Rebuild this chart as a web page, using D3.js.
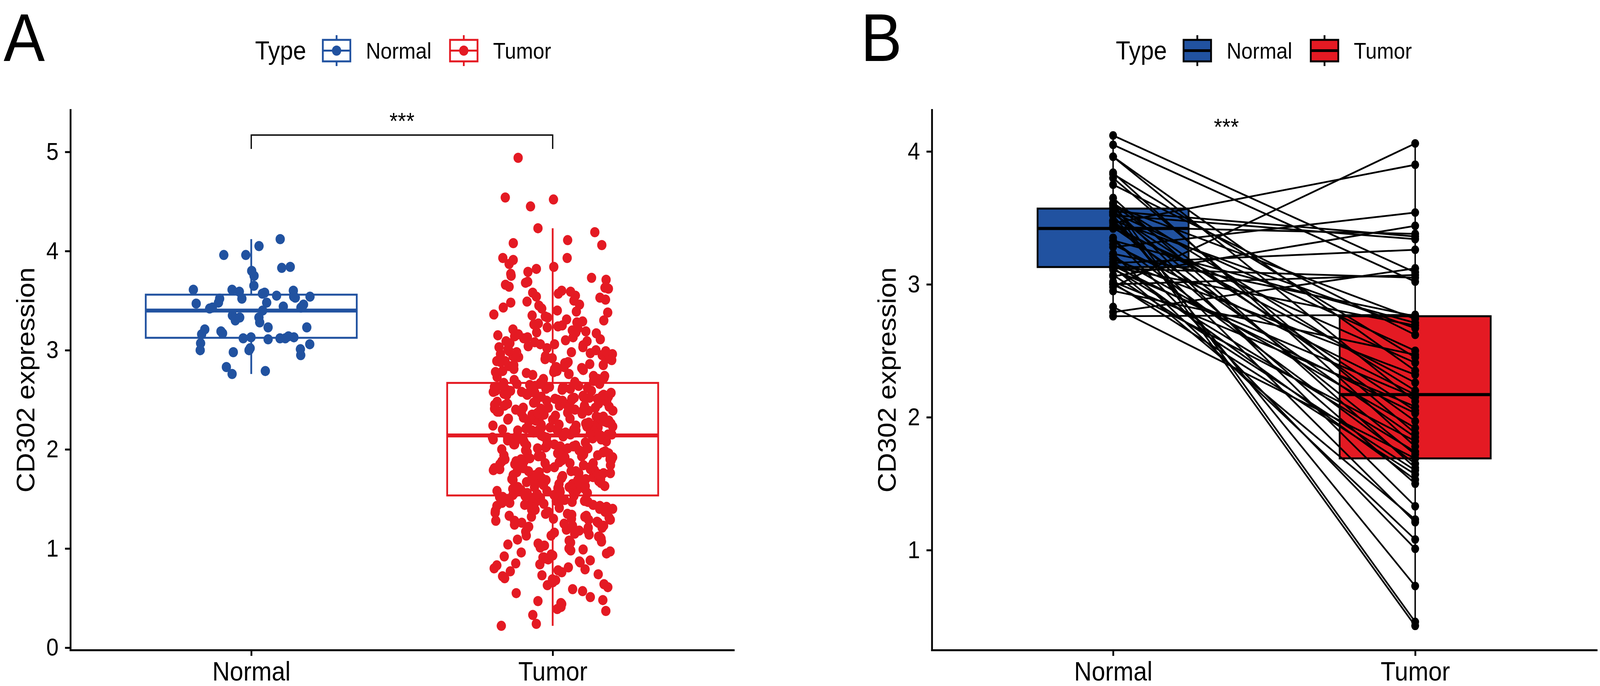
<!DOCTYPE html>
<html>
<head>
<meta charset="utf-8">
<script src="https://cdn.jsdelivr.net/npm/d3@7"></script>
<style>
  html, body { margin: 0; padding: 0; background: #fff; overflow: hidden; }
  svg { display: block; font-family: "Liberation Sans", Arial, Helvetica, sans-serif; }
</style>
</head>
<body>
<div id="chart"></div>
<script>
// ---- data ----
const groups = ["Normal", "Tumor"];
const groupColors = ["#2152A0", "#E41A23"];
const yTitle = "CD302 expression";
const legendTitle = "Type";
const sigLabel = "***";

// panel A: all samples
const normalA = [
  4.12, 4.05, 3.96, 3.96, 3.84, 3.83, 3.80, 3.75, 3.65, 3.61, 3.57, 3.58, 3.59, 3.60, 3.61,
  3.52, 3.52, 3.54, 3.55, 3.53, 3.54, 3.47, 3.48, 3.46, 3.48, 3.44, 3.42, 3.43, 3.43, 3.35,
  3.33, 3.30, 3.33, 3.28, 3.21, 3.23, 3.23, 3.19, 3.17, 3.12, 3.13, 3.11, 3.07, 3.13, 3.14,
  3.12, 3.16, 3.12, 3.06, 3.01, 3.00, 2.98, 3.02, 3.00, 2.95, 2.83, 2.76, 2.79, 3.40
];
const tumorA = [
  0.22, 0.24, 0.33, 0.37, 0.39, 0.41, 0.42, 0.44, 0.45, 0.47, 0.48, 0.51, 0.55, 0.57, 0.59,
  0.61, 0.63, 0.64, 0.66, 0.68, 0.69, 0.70, 0.72, 0.73, 0.74, 0.76, 0.77, 0.78, 0.79,
  0.80, 0.81, 0.83, 0.84, 0.85, 0.86, 0.87, 0.88, 0.89,
  0.90, 0.91, 0.91, 0.92, 0.93, 0.94, 0.95, 0.96, 0.97, 0.98, 0.99,
  1.00, 1.01, 1.03, 1.04, 1.05, 1.06, 1.07, 1.08, 1.09,
  1.10, 1.11, 1.12, 1.13, 1.13, 1.14, 1.15, 1.16, 1.17, 1.18, 1.18, 1.19,
  1.20, 1.21, 1.21, 1.22, 1.23, 1.23, 1.24, 1.25, 1.26, 1.26, 1.27, 1.28, 1.28, 1.29, 1.29,
  1.30, 1.30, 1.31, 1.32, 1.32, 1.33, 1.33, 1.34, 1.35, 1.35, 1.36, 1.37, 1.37, 1.38, 1.38, 1.39, 1.39,
  1.40, 1.40, 1.41, 1.41, 1.42, 1.42, 1.43, 1.43, 1.44, 1.44, 1.45, 1.45, 1.45, 1.46, 1.46, 1.47,
  1.47, 1.47, 1.48, 1.48, 1.49, 1.49, 1.49, 1.49,
  1.50, 1.50, 1.51, 1.51, 1.52, 1.52, 1.53, 1.53,
  1.54, 1.54, 1.55, 1.56, 1.56, 1.56, 1.57, 1.58, 1.58, 1.58, 1.59, 1.59, 1.59,
  1.60, 1.60, 1.61, 1.62, 1.62, 1.62, 1.63, 1.63, 1.64, 1.65, 1.65, 1.65, 1.66, 1.66, 1.67, 1.67,
  1.67, 1.68, 1.68, 1.69, 1.69, 1.69,
  1.70, 1.70, 1.70, 1.71, 1.71, 1.72, 1.73, 1.73, 1.73, 1.74, 1.74, 1.75, 1.76, 1.76, 1.76, 1.77,
  1.77, 1.78, 1.78, 1.78, 1.79, 1.79,
  1.80, 1.80, 1.81, 1.81, 1.81, 1.82, 1.82, 1.83, 1.84, 1.84, 1.84, 1.85, 1.85, 1.86, 1.86, 1.86,
  1.87, 1.88, 1.88, 1.88, 1.89, 1.89,
  1.90, 1.90, 1.90, 1.91, 1.92, 1.92, 1.93, 1.93, 1.93, 1.94, 1.94, 1.95, 1.95, 1.96, 1.96, 1.96,
  1.97, 1.97, 1.98, 1.98, 1.99, 1.99,
  2.00, 2.00, 2.01, 2.01, 2.01, 2.02, 2.03, 2.03, 2.03, 2.04, 2.04, 2.05, 2.05, 2.05, 2.06, 2.07,
  2.07, 2.07, 2.08, 2.08, 2.09, 2.09,
  2.10, 2.10, 2.11, 2.11, 2.12, 2.12, 2.12, 2.13, 2.13, 2.14, 2.14,
  2.14, 2.15, 2.15, 2.15, 2.16, 2.16, 2.17, 2.17, 2.17, 2.18, 2.18, 2.19, 2.19, 2.19, 2.19,
  2.20, 2.20, 2.20, 2.21, 2.21, 2.22, 2.22, 2.22, 2.23, 2.23, 2.24, 2.24, 2.24, 2.25, 2.25, 2.26,
  2.26, 2.26, 2.27, 2.27, 2.28, 2.28, 2.28, 2.29, 2.29,
  2.30, 2.30, 2.31, 2.31, 2.31, 2.32, 2.32, 2.33, 2.33, 2.33, 2.34, 2.34, 2.35, 2.35, 2.35, 2.36,
  2.36, 2.37, 2.37, 2.37, 2.38, 2.38, 2.39, 2.39, 2.39,
  2.40, 2.40, 2.40, 2.41, 2.41, 2.42, 2.42, 2.42, 2.43, 2.43, 2.44, 2.44, 2.44, 2.45, 2.45, 2.46,
  2.46, 2.46, 2.47, 2.47, 2.48, 2.48, 2.48, 2.49, 2.49,
  2.50, 2.50, 2.51, 2.51, 2.51, 2.52, 2.52, 2.53, 2.53, 2.53, 2.54, 2.54, 2.55, 2.55, 2.55, 2.56,
  2.56, 2.57, 2.57, 2.57, 2.58, 2.58, 2.59, 2.59, 2.59,
  2.60, 2.60, 2.61, 2.61, 2.62, 2.62, 2.62, 2.63, 2.63, 2.64, 2.64, 2.64, 2.65, 2.65, 2.66, 2.66,
  2.66, 2.67, 2.67,
  2.68, 2.69, 2.70, 2.71, 2.71, 2.72, 2.73, 2.74, 2.74, 2.75, 2.76, 2.76, 2.77, 2.78, 2.78, 2.79, 2.79,
  2.80, 2.81, 2.81, 2.82, 2.83, 2.83, 2.84, 2.85, 2.85, 2.86, 2.87, 2.87, 2.88, 2.88, 2.89, 2.89,
  2.90, 2.91, 2.91, 2.92, 2.93, 2.94, 2.94, 2.95, 2.96, 2.96, 2.97, 2.98, 2.98, 2.99, 2.99,
  3.00, 3.01, 3.02, 3.03, 3.03, 3.04, 3.05, 3.06, 3.06, 3.07, 3.08, 3.09, 3.09,
  3.10, 3.11, 3.12, 3.13, 3.13, 3.14, 3.15, 3.16, 3.17, 3.18, 3.18, 3.19,
  3.20, 3.21, 3.22, 3.23, 3.24, 3.25, 3.26, 3.27, 3.28, 3.29,
  3.30, 3.31, 3.33, 3.34, 3.35, 3.36, 3.38, 3.39,
  3.40, 3.42, 3.43, 3.45, 3.46, 3.48, 3.49,
  3.50, 3.51, 3.53, 3.54, 3.55, 3.57, 3.58, 3.59,
  3.60, 3.62, 3.63, 3.64, 3.66, 3.68, 3.69,
  3.71, 3.73, 3.75, 3.77, 3.79, 3.82, 3.84, 3.87,
  3.91, 3.93, 3.93, 4.06, 4.08, 4.11, 4.19, 4.23,
  4.45, 4.52, 4.54, 4.94
];

// panel B: paired samples (same index = same patient)
const pairedNormal = [
  4.12, 4.05, 3.96, 3.96, 3.84, 3.83, 3.80, 3.75, 3.65, 3.61, 3.61, 3.60, 3.59, 3.58, 3.57,
  3.55, 3.54, 3.54, 3.53, 3.52, 3.52, 3.48, 3.48, 3.47, 3.46, 3.44, 3.43, 3.43, 3.42, 3.35,
  3.33, 3.33, 3.30, 3.28, 3.23, 3.23, 3.21, 3.19, 3.17, 3.16, 3.14, 3.13, 3.13, 3.12, 3.12,
  3.11, 3.07, 3.06, 3.02, 3.01, 3.00, 3.00, 2.98, 2.95, 2.83, 2.79, 2.76
];
const pairedTumor = [
  3.09, 3.02, 2.35, 2.12, 1.78, 2.45, 1.88, 2.62, 1.62, 0.46, 2.20, 1.97, 2.74, 1.33, 0.43,
  3.36, 1.72, 2.50, 2.05, 0.73, 3.34, 1.50, 2.67, 1.21, 3.90, 2.26, 1.85, 3.38, 2.41, 1.01,
  2.71, 1.65, 2.17, 3.54, 1.08, 2.76, 1.92, 2.32, 1.53, 3.26, 2.03, 1.23, 2.69, 1.74, 3.05,
  2.15, 1.60, 3.44, 2.08, 1.57, 3.07, 1.82, 4.06, 2.47, 1.69, 3.12, 2.77
];

// axes
const yTicksA = [0, 1, 2, 3, 4, 5];
const yTicksB = [1, 2, 3, 4];
const yLimitsA = [-0.024, 5.424];
const yLimitsB = [0.248, 4.313];
// significance bracket in panel A (value units)
const bracketA = { top: 5.17, tip: 5.03 };
const sigYB = 4.125;

// ---- helpers ----
function boxStats(values) {
  const s = values.slice().sort(d3.ascending);
  const q1 = d3.quantile(s, 0.25), med = d3.quantile(s, 0.5), q3 = d3.quantile(s, 0.75);
  const iqr = q3 - q1;
  const lo = d3.min(s.filter(v => v >= q1 - 1.5 * iqr));
  const hi = d3.max(s.filter(v => v <= q3 + 1.5 * iqr));
  return { q1, med, q3, lo, hi };
}

// horizontal jitter of the dots: a fixed hash of the index, +-0.2 of the category step
function jitter(i, seed) {
  let h = Math.sin((i + 1) * 12.9898 + seed * 78.233) * 43758.5453;
  return (h - Math.floor(h) - 0.5) * 0.4;
}

const W = 4478, H = 1755;
const panelTop = 281, panelBottom = 1663;

// the drawing is laid out on a 4478x1755 grid and stretched to the window
const svg = d3.select("#chart").append("svg")
  .attr("viewBox", "0 0 " + W + " " + H)
  .attr("preserveAspectRatio", "none")
  .style("width", "100vw")
  .style("height", "100vh")
  .style("background", "#fff");

function drawAxes(g, x, y, ticks, titleX) {
  let yAxis = g.append("g")
    .attr("transform", "translate(" + x.range()[0] + ",0)")
    .call(d3.axisLeft(y).tickValues(ticks).tickFormat(d3.format("d"))
      .tickSize(15).tickSizeOuter(0).tickPadding(18));
  let xAxis = g.append("g")
    .attr("transform", "translate(0," + y.range()[0] + ")")
    .call(d3.axisBottom(x).tickSize(15).tickSizeOuter(0).tickPadding(15));
  [yAxis, xAxis].forEach(a => {
    a.attr("font-family", null);
    a.select(".domain").attr("stroke-width", 5).attr("stroke-linecap", "square");
    a.selectAll(".tick line").attr("stroke-width", 5);
  });
  yAxis.selectAll(".tick text").attr("font-size", 62);
  xAxis.selectAll(".tick text").attr("font-size", 68);

  g.append("text")
    .attr("transform", "translate(" + titleX + "," + (y.range()[0] + y.range()[1]) / 2 + ") rotate(-90)")
    .attr("text-anchor", "middle")
    .attr("font-size", 70)
    .text(yTitle);
}

function drawLegend(g, left, filled) {
  g.append("text").attr("x", left).attr("y", 152).attr("font-size", 66).text(legendTitle);
  groups.forEach((grp, i) => {
    let cx = left + 228 + i * 356, cy = 129.5;
    let col = groupColors[i];
    let stroke = filled ? "#000" : col;
    let key = g.append("g");
    key.append("line").attr("x1", cx).attr("x2", cx).attr("y1", 90).attr("y2", 169)
      .attr("stroke", stroke).attr("stroke-width", 5);
    key.append("rect").attr("x", cx - 38.5).attr("y", cy - 27.5).attr("width", 77).attr("height", 55)
      .attr("fill", filled ? col : "#fff").attr("stroke", stroke).attr("stroke-width", 5);
    key.append("line").attr("x1", cx - 38.5).attr("x2", cx + 38.5).attr("y1", cy).attr("y2", cy)
      .attr("stroke", stroke).attr("stroke-width", filled ? 7 : 5);
    if (!filled) {
      key.append("circle").attr("cx", cx).attr("cy", cy).attr("r", 13).attr("fill", col);
    }
    g.append("text").attr("x", left + 310 + i * 356).attr("y", 150).attr("font-size", 57).text(grp);
  });
}

// ---- panel A ----
let gA = svg.append("g");
let xA = d3.scalePoint().domain(groups).range([197, 2053]).padding(0.6);
let yA = d3.scaleLinear().domain(yLimitsA).range([panelBottom, panelTop]);
let stepA = xA.step();
let seriesA = [normalA, tumorA];

seriesA.forEach((vals, i) => {
  let st = boxStats(vals);
  let cx = xA(groups[i]), hw = stepA * 0.35;
  let col = groupColors[i];
  let box = gA.append("g").attr("stroke", col).attr("fill", "none");
  box.append("line").attr("x1", cx).attr("x2", cx).attr("y1", yA(st.q3)).attr("y2", yA(st.hi)).attr("stroke-width", 5);
  box.append("line").attr("x1", cx).attr("x2", cx).attr("y1", yA(st.q1)).attr("y2", yA(st.lo)).attr("stroke-width", 5);
  box.append("rect").attr("x", cx - hw).attr("width", hw * 2)
    .attr("y", yA(st.q3)).attr("height", yA(st.q1) - yA(st.q3))
    .attr("fill", "#fff").attr("stroke-width", 5);
  box.append("line").attr("x1", cx - hw).attr("x2", cx + hw)
    .attr("y1", yA(st.med)).attr("y2", yA(st.med)).attr("stroke-width", 10);
});

seriesA.forEach((vals, i) => {
  let cx = xA(groups[i]);
  gA.append("g").selectAll("circle")
    .data(vals)
    .join("circle")
    .attr("cx", (d, j) => cx + jitter(j, i + 1) * stepA)
    .attr("cy", d => yA(d))
    .attr("r", 13)
    .attr("fill", groupColors[i]);
});

drawAxes(gA, xA, yA, yTicksA, 96);

gA.append("path")
  .attr("d", "M" + xA(groups[0]) + "," + yA(bracketA.tip) + "V" + yA(bracketA.top) +
             "H" + xA(groups[1]) + "V" + yA(bracketA.tip))
  .attr("fill", "none").attr("stroke", "#000").attr("stroke-width", 3.5);
gA.append("text")
  .attr("x", (xA(groups[0]) + xA(groups[1])) / 2).attr("y", yA(bracketA.top) - 15)
  .attr("text-anchor", "middle").attr("font-size", 60).text(sigLabel);

drawLegend(gA, 714, false);
gA.append("text").attr("x", 10).attr("y", 156).attr("font-size", 173).text("A");

// ---- panel B ----
let gB = svg.append("g");
let xB = d3.scalePoint().domain(groups).range([2608, 4468]).padding(0.6);
let yB = d3.scaleLinear().domain(yLimitsB).range([panelBottom, panelTop]);
let stepB = xB.step();
let seriesB = [pairedNormal, pairedTumor];

seriesB.forEach((vals, i) => {
  let st = boxStats(vals);
  let cx = xB(groups[i]), hw = stepB * 0.25;
  let box = gB.append("g").attr("stroke", "#000");
  box.append("line").attr("x1", cx).attr("x2", cx).attr("y1", yB(st.q3)).attr("y2", yB(st.hi)).attr("stroke-width", 4);
  box.append("line").attr("x1", cx).attr("x2", cx).attr("y1", yB(st.q1)).attr("y2", yB(st.lo)).attr("stroke-width", 4);
  box.append("rect").attr("x", cx - hw).attr("width", hw * 2)
    .attr("y", yB(st.q3)).attr("height", yB(st.q1) - yB(st.q3))
    .attr("fill", groupColors[i]).attr("stroke-width", 5);
  box.append("line").attr("x1", cx - hw).attr("x2", cx + hw)
    .attr("y1", yB(st.med)).attr("y2", yB(st.med)).attr("stroke-width", 8);
});

let pairs = pairedNormal.map((n, i) => ({ normal: n, tumor: pairedTumor[i] }));
gB.append("g").selectAll("line")
  .data(pairs)
  .join("line")
  .attr("x1", xB(groups[0])).attr("x2", xB(groups[1]))
  .attr("y1", d => yB(d.normal)).attr("y2", d => yB(d.tumor))
  .attr("stroke", "#000").attr("stroke-width", 4.5);

seriesB.forEach((vals, i) => {
  gB.append("g").selectAll("circle")
    .data(vals)
    .join("circle")
    .attr("cx", xB(groups[i]))
    .attr("cy", d => yB(d))
    .attr("r", 11)
    .attr("fill", "#000");
});

drawAxes(gB, xB, yB, yTicksB, 2507);

gB.append("text")
  .attr("x", xB(groups[0]) + stepB * 0.375).attr("y", yB(sigYB))
  .attr("text-anchor", "middle").attr("font-size", 60).text(sigLabel);

drawLegend(gB, 3123, true);
gB.append("text").attr("x", 2409).attr("y", 156).attr("font-size", 173).text("B");
</script>
</body>
</html>
